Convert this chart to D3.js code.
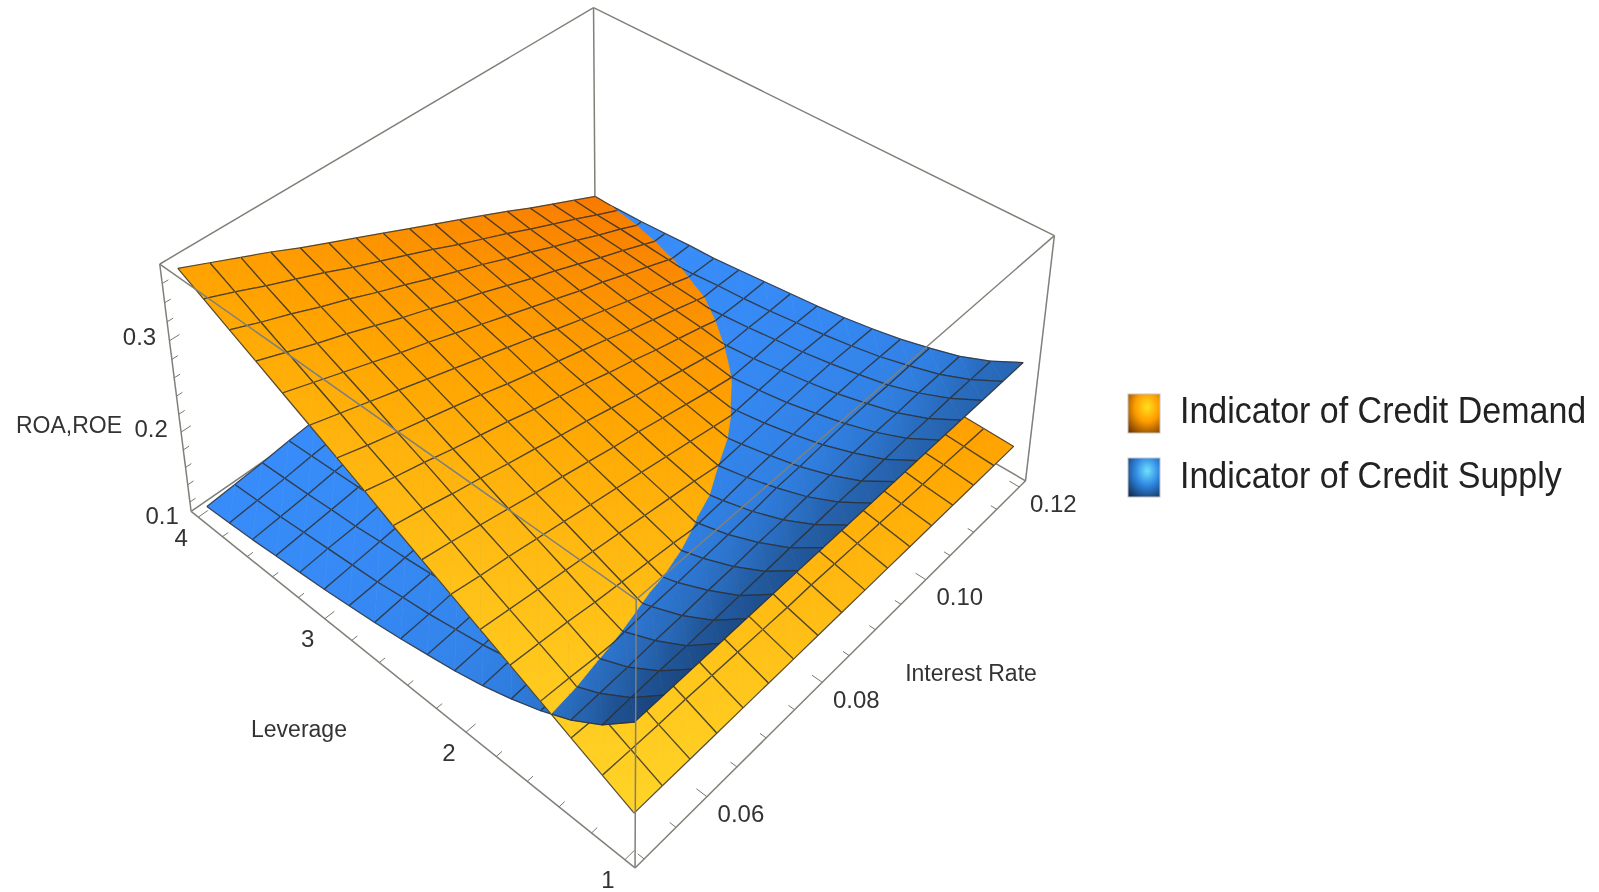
<!DOCTYPE html>
<html><head><meta charset="utf-8">
<script src="https://cdnjs.cloudflare.com/ajax/libs/d3/7.8.5/d3.min.js"></script>
<style>html,body{margin:0;background:#fff}svg{display:block;filter:blur(.7px)}text{font-family:"Liberation Sans",Arial,sans-serif}</style>
</head><body><svg id="c" width="1599" height="892"></svg>
<script>
const leverage=[1,1.1875,1.375,1.5625,1.75,1.9375,2.125,2.3125,2.5,2.6875,2.875,3.0625,3.25,3.4375,3.625,3.8125,4];
const rates=[.05,.054375,.05875,.063125,.0675,.071875,.07625,.080625,.085,.089375,.09375,.098125,.1025,.106875,.11125,.115625,.12];
const demand=[
[.150,.150,.150,.150,.150,.150,.150,.150,.150,.150,.150,.150,.150,.150,.150,.150,.150],
[.164,.163,.162,.162,.161,.160,.159,.158,.158,.157,.156,.155,.154,.153,.153,.152,.151],
[.178,.176,.175,.173,.172,.170,.168,.167,.165,.163,.162,.160,.158,.157,.155,.154,.152],
[.192,.190,.187,.185,.182,.180,.177,.175,.173,.170,.168,.165,.163,.160,.158,.155,.153],
[.206,.203,.200,.196,.193,.190,.187,.183,.180,.177,.173,.170,.167,.164,.160,.157,.154],
[.220,.216,.212,.208,.204,.200,.196,.192,.188,.183,.179,.175,.171,.167,.163,.159,.155],
[.234,.229,.225,.220,.215,.210,.205,.200,.195,.190,.185,.180,.175,.170,.165,.161,.156],
[.248,.243,.237,.231,.225,.220,.214,.208,.203,.197,.191,.185,.180,.174,.168,.162,.157],
[.262,.256,.249,.243,.236,.230,.223,.217,.210,.203,.197,.190,.184,.177,.171,.164,.158],
[.277,.269,.262,.254,.247,.240,.232,.225,.218,.210,.203,.195,.188,.181,.173,.166,.158],
[.291,.282,.274,.266,.258,.250,.241,.233,.225,.217,.209,.200,.192,.184,.176,.168,.159],
[.305,.296,.287,.278,.269,.260,.251,.242,.233,.223,.214,.205,.196,.187,.178,.169,.160],
[.319,.309,.299,.289,.279,.270,.260,.250,.240,.230,.220,.210,.201,.191,.181,.171,.161],
[.333,.322,.311,.301,.290,.279,.269,.258,.248,.237,.226,.216,.205,.194,.184,.173,.162],
[.347,.335,.324,.312,.301,.289,.278,.266,.255,.244,.232,.221,.209,.198,.186,.175,.163],
[.361,.349,.336,.324,.312,.299,.287,.275,.263,.250,.238,.226,.213,.201,.189,.176,.164],
[.375,.362,.349,.336,.322,.309,.296,.283,.270,.257,.244,.231,.218,.204,.191,.178,.165]];
const supply=[
[.245,.245,.245,.245,.245,.245,.245,.245,.245,.245,.245,.245,.245,.245,.245,.245,.245],
[.217,.218,.219,.219,.220,.221,.222,.223,.224,.225,.225,.226,.227,.227,.228,.228,.228],
[.197,.198,.199,.201,.202,.204,.205,.207,.208,.210,.211,.213,.214,.214,.215,.215,.215],
[.182,.183,.185,.187,.189,.190,.192,.194,.196,.199,.200,.202,.204,.205,.205,.206,.206],
[.170,.172,.173,.176,.178,.180,.182,.185,.187,.190,.192,.194,.196,.197,.198,.198,.198],
[.160,.162,.164,.167,.169,.171,.174,.177,.180,.183,.185,.187,.189,.191,.192,.192,.192],
[.152,.154,.157,.159,.162,.165,.167,.170,.174,.177,.179,.182,.184,.186,.187,.187,.187],
[.146,.148,.150,.153,.156,.159,.162,.165,.168,.172,.175,.178,.180,.181,.183,.183,.183],
[.140,.142,.145,.148,.151,.154,.157,.160,.164,.168,.171,.174,.176,.178,.179,.179,.180],
[.135,.138,.140,.143,.146,.150,.153,.157,.160,.164,.167,.170,.173,.175,.176,.176,.177],
[.131,.133,.136,.139,.143,.146,.149,.153,.157,.161,.164,.167,.170,.172,.173,.174,.174],
[.127,.130,.133,.136,.139,.143,.146,.150,.154,.158,.162,.165,.167,.170,.171,.171,.171],
[.124,.127,.129,.133,.136,.140,.143,.147,.152,.156,.159,.163,.165,.168,.169,.169,.170],
[.121,.124,.127,.130,.134,.137,.141,.145,.149,.154,.157,.161,.164,.166,.167,.167,.168],
[.118,.121,.124,.128,.131,.135,.139,.143,.147,.152,.155,.159,.162,.164,.165,.165,.166],
[.116,.119,.122,.126,.129,.133,.137,.141,.145,.150,.154,.157,.160,.162,.164,.164,.165],
[.114,.117,.120,.124,.127,.131,.135,.139,.144,.148,.152,.156,.159,.161,.163,.163,.163]];
const leverageTicks=[1,2,3,4], rateTicks=[.06,.08,.10,.12], roaTicks=[.1,.2,.3];
const legendLabels=["Indicator of Credit Demand","Indicator of Credit Supply"];

const uS=d3.scaleLinear([.94,4.06],[0,1]), vS=d3.scaleLinear([.0486,.1214],[0,1]), wS=d3.scaleLinear([.109,.38],[0,1]);
const anchors=[[0,0,0,637,867],[1,0,0,190,512],[0,1,0,1025,481],[0,0,1,634,601],[1,0,1,161,263],[0,1,1,1055,235],[1,1,1,593.5,8]];
function fit(){
 const rows=[],rhs=[];
 anchors.forEach(([u,v,w,x,y])=>{rows.push([u,v,w,1,0,0,0,0,-x*u,-x*v,-x*w]);rhs.push(x);rows.push([0,0,0,0,u,v,w,1,-y*u,-y*v,-y*w]);rhs.push(y);});
 const n=11,M=d3.range(n).map(a=>d3.range(n+1).map(b=>b<n?d3.sum(rows,(r)=>r[a]*r[b]):d3.sum(rows,(r,i)=>r[a]*rhs[i])));
 for(let c=0;c<n;c++){let p=c;for(let r=c+1;r<n;r++)if(Math.abs(M[r][c])>Math.abs(M[p][c]))p=r;[M[c],M[p]]=[M[p],M[c]];
  for(let r=0;r<n;r++)if(r!==c){const f=M[r][c]/M[c][c];for(let k=c;k<=n;k++)M[r][k]-=f*M[c][k];}}
 return d3.range(n).map(i=>M[i][n]/M[i][i]);
}
const P=fit();
const box=(u,v,w)=>{const d=P[8]*u+P[9]*v+P[10]*w+1;return[(P[0]*u+P[1]*v+P[2]*w+P[3])/d,(P[4]*u+P[5]*v+P[6]*w+P[7])/d];};
const proj=(l,r,z)=>box(uS(l),vS(r),wS(z));
const svg=d3.select("#c");
const defs=svg.append("defs");
const line=d3.line();
const edge=(g,a,b,col,wd)=>g.append("path").attr("d",line([a,b])).attr("fill","none").attr("stroke",col).attr("stroke-width",wd);
const frameCol="#80807a";
const back=svg.append("g");
[[[1,1,1],[1,0,1]],[[1,1,1],[0,1,1]],[[1,1,1],[1,1,0]],[[1,1,0],[1,0,0]],[[1,1,0],[0,1,0]],[[1,0,0],[1,0,1]],[[0,1,0],[0,1,1]]]
 .forEach(([a,b])=>edge(back,box(...a),box(...b),frameCol,1.5));
const surf=svg.append("g");
const orangeC=d3.scaleLinear([0,.5,1],["#ffd427","#ffa400","#f87a00"]);
const blueC=d3.scaleLinear([0,.05,.1,.175],["#3a90ff","#307fe2","#2560a8","#133668"]);
const ri=i=>leverage[0]+(i/16)*(leverage[16]-leverage[0]);
const rj=j=>rates[0]+(j/16)*(rates[16]-rates[0]);
function clip(tri,sign){
 const out=[],d=p=>(p.b-p.o)*sign;
 tri.forEach((p,k)=>{const q=tri[(k+1)%3],dp=d(p),dq=d(q);
  if(dp>=0)out.push(p);
  if((dp>0&&dq<0)||(dp<0&&dq>0)){const t=dp/(dp-dq);out.push({i:p.i+t*(q.i-p.i),j:p.j+t*(q.j-p.j),o:p.o+t*(q.o-p.o),b:p.b+t*(q.b-p.b)});}
 });
 return out.length>2?out:null;
}
function grad(id,a,b,c0,c1){
 const g=defs.append("linearGradient").attr("id",id).attr("gradientUnits","userSpaceOnUse").attr("x1",a[0]).attr("y1",a[1]).attr("x2",b[0]).attr("y2",b[1]);
 g.append("stop").attr("offset",0).attr("stop-color",c0);g.append("stop").attr("offset",1).attr("stop-color",c1);
 return `url(#${id})`;
}
function paint(poly,key,col,ci,cj){
 const pts=poly.map(p=>proj(ri(p.i),rj(p.j),p[key]));
 surf.append("path").attr("d",line(pts)+"Z").attr("fill",col).attr("stroke",col).attr("stroke-width",.7);
 poly.forEach((p,k)=>{const q=poly[(k+1)%poly.length],e=1e-9;
  const on=(Math.abs(p.i-ci)<e&&Math.abs(q.i-ci)<e)||(Math.abs(p.i-ci-1)<e&&Math.abs(q.i-ci-1)<e)||(Math.abs(p.j-cj)<e&&Math.abs(q.j-cj)<e)||(Math.abs(p.j-cj-1)<e&&Math.abs(q.j-cj-1)<e);
  if(on)surf.append("path").attr("d",line([pts[k],pts[(k+1)%poly.length]])).attr("fill","none").attr("stroke","#2e2e2e").attr("stroke-width",1.25).attr("stroke-opacity",.8);
 });
}
const slope=i=>j=>{const a=Math.max(0,i-1),b=Math.min(16,i+1);return (supply[a][j]-supply[b][j])/(b-a)*16/3;};
const shade=(i,j)=>blueC(Math.max(0,(slope(i)(j)+slope(i)(j+1))/2));
for(let i=15;i>=0;i--)for(let j=15;j>=0;j--){
 const V=(a,b)=>({i:a,j:b,o:demand[a][b],b:supply[a][b]});
 const A=V(i,j),B=V(i+1,j),C=V(i+1,j+1),D=V(i,j+1);
 const oc=grad(`o${i}_${j}`,proj(ri(i),rj(j),A.o),proj(ri(i+1),rj(j+1),C.o),orangeC((i+j)/32),orangeC((i+j+2)/32));
 const bc=grad(`b${i}_${j}`,proj(ri(i),rj(j+.5),(A.b+D.b)/2),proj(ri(i+1),rj(j+.5),(B.b+C.b)/2),shade(i,j),shade(i+1,j));
 const lows=[],highs=[];
 [[A,B,C],[A,C,D]].forEach(t=>{
  const up=clip(t,1),dn=clip(t,-1);
  if(up){lows.push([up,"o",oc]);highs.push([up,"b",bc]);}
  if(dn){lows.push([dn,"b",bc]);highs.push([dn,"o",oc]);}
 });
 lows.concat(highs).forEach(([p,k,c])=>paint(p,k,c,i,j));
}
const front=svg.append("g");
[[[1,0,1],[0,0,1]],[[0,1,1],[0,0,1]],[[0,0,1],[0,0,0]],[[1,0,0],[0,0,0]],[[0,1,0],[0,0,0]]]
 .forEach(([a,b])=>edge(front,box(...a),box(...b),frameCol,1.5));
const ticks=svg.append("g").attr("stroke","#77776f").attr("stroke-width",1);
d3.range(1,4.01,.2).forEach(l=>{const u=uS(l),M=Math.abs(l-Math.round(l))<1e-6;ticks.append("path").attr("d",line([box(u,0,0),box(u,M?.02:.012,0)])).attr("fill","none");});
d3.range(.05,.1201,.005).forEach(r=>{const v=vS(r),M=Math.abs(r*50-Math.round(r*50))<1e-6;ticks.append("path").attr("d",line([box(0,v,0),box(M?.02:.012,v,0)])).attr("fill","none");});
d3.range(.12,.3801,.02).forEach(z=>{const w=wS(z),M=Math.abs(z*10-Math.round(z*10))<1e-6;ticks.append("path").attr("d",line([box(1,0,w),box(1,M?.02:.012,w)])).attr("fill","none");});
const lab=svg.append("g").attr("fill","#333").attr("text-anchor","middle").attr("dominant-baseline","central");
const put=(t,x,y,fs)=>lab.append("text").attr("x",x).attr("y",y).attr("font-size",fs).text(t);
leverageTicks.forEach(l=>{const [x,y]=box(uS(l),0,0);put(String(l),x-17,y+20,24);});
rateTicks.forEach(r=>{const [x,y]=box(0,vS(r),0);put(r.toFixed(2),x+34,y+17,24);});
roaTicks.forEach(z=>{const [x,y]=box(1,0,wS(z));put(z.toFixed(1),x-30,y-4,24);});
put("ROA,ROE",69,425,23);put("Leverage",299,729,23);put("Interest Rate",971,673,23);
[["lgO",["#ffe020","#ff9c00","#6e3400"]],["lgB",["#6fe0ff","#2f86e0","#0e2a50"]]].forEach(([id,c])=>{
 const g=defs.append("radialGradient").attr("id",id).attr("cx",.6).attr("cy",.33).attr("r",.85);
 [0,.45,1].forEach((o,k)=>g.append("stop").attr("offset",o).attr("stop-color",c[k]));
});
legendLabels.forEach((t,k)=>{
 const y0=k?458:394;
 svg.append("rect").attr("x",1128).attr("y",y0).attr("width",32).attr("height",39).attr("fill",k?"url(#lgB)":"url(#lgO)").attr("stroke","#c4c4c4").attr("stroke-width",1);
 svg.append("text").attr("transform",`translate(1180,${k?488:423}) scale(1,1.1)`).attr("font-size",34).attr("fill","#222").text(t);
});
</script></body></html>
